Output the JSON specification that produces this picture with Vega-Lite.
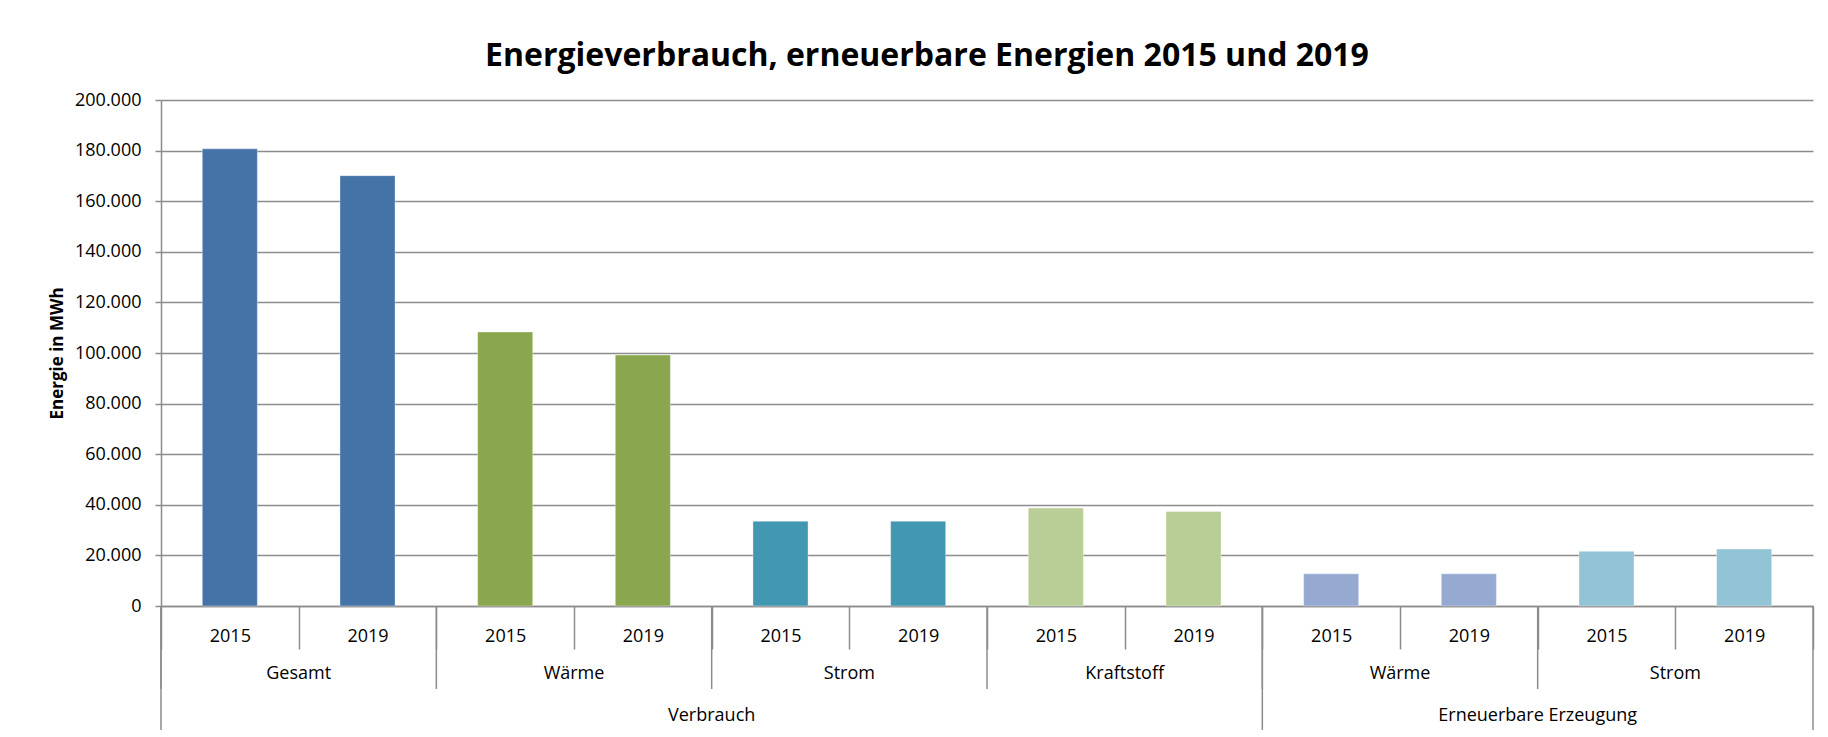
{
  "$schema": "https://vega.github.io/schema/vega-lite/v6.json",
  "autosize": {"type": "none"},
  "width": 1652,
  "height": 506,
  "padding": {"left": 161, "top": 100, "right": 15, "bottom": 131},
  "background": "white",
  "config": {
    "locale": {"number": {"decimal": ",", "thousands": ".", "grouping": [3], "currency": ["", " €"]}},
    "view": {"stroke": null},
    "font": "Open Sans"
  },
  "title": {
    "text": "Energieverbrauch, erneuerbare Energien 2015 und 2019",
    "font": "Open Sans",
    "fontSize": 32,
    "fontWeight": "bold",
    "color": "#000000",
    "anchor": "middle",
    "dx": -60,
    "offset": 18
  },
  "data": {
    "values": [
      {"Bereich": "Verbrauch", "Kategorie": "Gesamt", "Gruppe": "Verbrauch Gesamt", "Jahr": "2015", "Balken": "Verbrauch Gesamt 2015", "Wert": 180700},
      {"Bereich": "Verbrauch", "Kategorie": "Gesamt", "Gruppe": "Verbrauch Gesamt", "Jahr": "2019", "Balken": "Verbrauch Gesamt 2019", "Wert": 170100},
      {"Bereich": "Verbrauch", "Kategorie": "Wärme", "Gruppe": "Verbrauch Wärme", "Jahr": "2015", "Balken": "Verbrauch Wärme 2015", "Wert": 108300},
      {"Bereich": "Verbrauch", "Kategorie": "Wärme", "Gruppe": "Verbrauch Wärme", "Jahr": "2019", "Balken": "Verbrauch Wärme 2019", "Wert": 99200},
      {"Bereich": "Verbrauch", "Kategorie": "Strom", "Gruppe": "Verbrauch Strom", "Jahr": "2015", "Balken": "Verbrauch Strom 2015", "Wert": 33500},
      {"Bereich": "Verbrauch", "Kategorie": "Strom", "Gruppe": "Verbrauch Strom", "Jahr": "2019", "Balken": "Verbrauch Strom 2019", "Wert": 33500},
      {"Bereich": "Verbrauch", "Kategorie": "Kraftstoff", "Gruppe": "Verbrauch Kraftstoff", "Jahr": "2015", "Balken": "Verbrauch Kraftstoff 2015", "Wert": 38700},
      {"Bereich": "Verbrauch", "Kategorie": "Kraftstoff", "Gruppe": "Verbrauch Kraftstoff", "Jahr": "2019", "Balken": "Verbrauch Kraftstoff 2019", "Wert": 37400},
      {"Bereich": "Erneuerbare Erzeugung", "Kategorie": "Wärme", "Gruppe": "Erneuerbare Wärme", "Jahr": "2015", "Balken": "Erneuerbare Erzeugung Wärme 2015", "Wert": 12700},
      {"Bereich": "Erneuerbare Erzeugung", "Kategorie": "Wärme", "Gruppe": "Erneuerbare Wärme", "Jahr": "2019", "Balken": "Erneuerbare Erzeugung Wärme 2019", "Wert": 12700},
      {"Bereich": "Erneuerbare Erzeugung", "Kategorie": "Strom", "Gruppe": "Erneuerbare Strom", "Jahr": "2015", "Balken": "Erneuerbare Erzeugung Strom 2015", "Wert": 21600},
      {"Bereich": "Erneuerbare Erzeugung", "Kategorie": "Strom", "Gruppe": "Erneuerbare Strom", "Jahr": "2019", "Balken": "Erneuerbare Erzeugung Strom 2019", "Wert": 22500}
    ]
  },
  "layer": [
    {
      "mark": {"type": "bar", "width": {"band": 0.4}, "stroke": "#ffffff", "strokeOpacity": 0.35, "strokeWidth": 1},
      "encoding": {
        "x": {
          "field": "Balken",
          "type": "nominal",
          "sort": null,
          "scale": {
            "domain": ["Verbrauch Gesamt 2015", "Verbrauch Gesamt 2019", "Verbrauch Wärme 2015", "Verbrauch Wärme 2019", "Verbrauch Strom 2015", "Verbrauch Strom 2019", "Verbrauch Kraftstoff 2015", "Verbrauch Kraftstoff 2019", "Erneuerbare Erzeugung Wärme 2015", "Erneuerbare Erzeugung Wärme 2019", "Erneuerbare Erzeugung Strom 2015", "Erneuerbare Erzeugung Strom 2019"],
            "paddingInner": 0,
            "paddingOuter": 0
          },
          "axis": {
            "title": null,
            "labelExpr": "slice(datum.label, -4)",
            "tickBand": "extent",
            "tickSize": 43,
            "tickColor": "#8c8c8c",
            "tickWidth": 1.5,
            "domainColor": "#8c8c8c",
            "domainWidth": 1.5,
            "labelFont": "Open Sans",
            "labelFontSize": 18,
            "labelColor": "#000000",
            "labelAngle": 0,
            "labelBaseline": "middle",
            "labelPadding": -13,
            "grid": false
          }
        },
        "y": {
          "field": "Wert",
          "type": "quantitative",
          "scale": {"domain": [0, 200000]},
          "axis": {
            "title": "Energie in MWh",
            "titleFont": "Open Sans",
            "titleFontSize": 17,
            "titleFontWeight": "bold",
            "titleColor": "#000000",
            "titlePadding": 8,
            "values": [0, 20000, 40000, 60000, 80000, 100000, 120000, 140000, 160000, 180000, 200000],
            "format": ",.0f",
            "labelFont": "Open Sans",
            "labelFontSize": 18,
            "labelColor": "#000000",
            "labelPadding": 14,
            "tickSize": 6,
            "tickColor": "#8c8c8c",
            "tickWidth": 1.5,
            "domainColor": "#8c8c8c",
            "domainWidth": 1.5,
            "gridColor": "#8c8c8c",
            "gridWidth": 1.5
          }
        },
        "color": {
          "field": "Gruppe",
          "type": "nominal",
          "scale": {
            "domain": ["Verbrauch Gesamt", "Verbrauch Wärme", "Verbrauch Strom", "Verbrauch Kraftstoff", "Erneuerbare Wärme", "Erneuerbare Strom"],
            "range": ["#4673A7", "#8AA64E", "#4298B0", "#B9CE96", "#95A9D1", "#93C4D6"]
          },
          "legend": null
        }
      }
    },
    {
      "transform": [{"filter": "datum.Jahr == '2015'"}],
      "mark": {"type": "text", "dy": 68, "fontSize": 18, "font": "Open Sans", "color": "#000000", "baseline": "middle", "align": "center"},
      "encoding": {
        "x": {"field": "Balken", "type": "nominal", "bandPosition": 1},
        "y": {"datum": 0},
        "text": {"field": "Kategorie"}
      }
    },
    {
      "transform": [{"filter": "datum.Balken == 'Verbrauch Wärme 2019' || datum.Balken == 'Erneuerbare Erzeugung Wärme 2019'"}],
      "mark": {"type": "text", "dy": 110, "fontSize": 18, "font": "Open Sans", "color": "#000000", "baseline": "middle", "align": "center"},
      "encoding": {
        "x": {"field": "Balken", "type": "nominal", "bandPosition": 1},
        "y": {"datum": 0},
        "text": {"field": "Bereich"}
      }
    },
    {
      "transform": [{"filter": "datum.Jahr == '2015'"}],
      "mark": {"type": "rule", "color": "#8c8c8c", "strokeWidth": 1.5},
      "encoding": {
        "x": {"field": "Balken", "type": "nominal", "bandPosition": 0},
        "y": {"datum": 0},
        "y2": {"datum": -32800}
      }
    },
    {
      "transform": [{"filter": "datum.Balken == 'Verbrauch Gesamt 2015' || datum.Balken == 'Erneuerbare Erzeugung Wärme 2015'"}],
      "mark": {"type": "rule", "color": "#8c8c8c", "strokeWidth": 1.5},
      "encoding": {
        "x": {"field": "Balken", "type": "nominal", "bandPosition": 0},
        "y": {"datum": 0},
        "y2": {"datum": -49000}
      }
    },
    {
      "transform": [{"filter": "datum.Balken == 'Erneuerbare Erzeugung Strom 2019'"}],
      "mark": {"type": "rule", "color": "#8c8c8c", "strokeWidth": 1.5},
      "encoding": {
        "x": {"field": "Balken", "type": "nominal", "bandPosition": 1},
        "y": {"datum": 0},
        "y2": {"datum": -49000}
      }
    }
  ]
}
